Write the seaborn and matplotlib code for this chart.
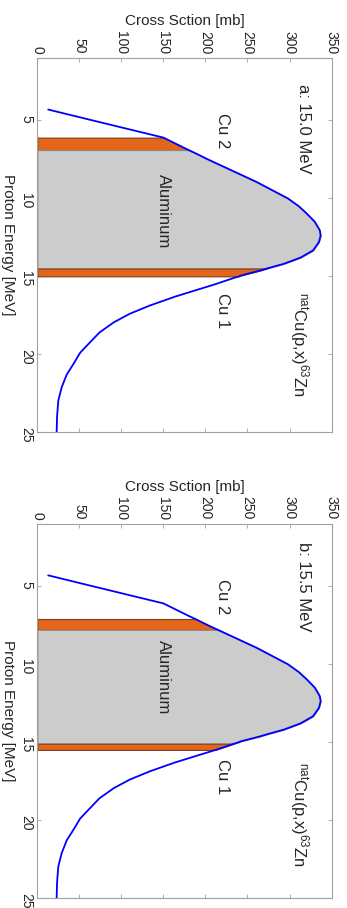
import numpy as np
import matplotlib
matplotlib.use("Agg")
import matplotlib.pyplot as plt
import seaborn as sns

# excitation function natCu(p,x)63Zn
energy = [4.3, 5.0, 6.1, 6.9, 7.1, 7.5, 7.8, 8.95, 10.0, 10.5, 11.0, 11.5, 12.05,
          12.38, 12.8, 13.34, 13.8, 14.2, 14.5, 14.63, 14.95, 15.0, 15.1, 15.5,
          15.8, 16.3, 16.87, 17.4, 17.95, 18.6, 19.33, 19.9, 20.62, 21.3, 22.12,
          22.97, 24.0, 25.0]
sigma = [13, 66, 150, 180, 188, 203, 215, 261, 298, 311, 321, 330, 336,
         337, 335, 328, 313, 293, 273, 265, 242, 240, 234, 212,
         194, 164, 134, 110, 91, 74, 61, 51, 43, 35, 29,
         25, 23.5, 23]

panel_titles = ["a: 15.0 MeV", "b: 15.5 MeV"]
# (start, end) energies of each foil, per panel
cu1_ranges = [(14.5, 15.0), (15.1, 15.5)]
al_ranges = [(6.9, 14.5), (7.8, 15.1)]
cu2_ranges = [(6.1, 6.9), (7.1, 7.8)]
title_start = [2.63, 2.16]
nat_start = [16.0, 16.26]

xticks = [0, 50, 100, 150, 200, 250, 300, 350]
yticks = [5, 10, 15, 20, 25]

sns.set_style("white")
plt.rcParams["font.family"] = ["Liberation Sans", "DejaVu Sans"]
plt.rcParams["mathtext.fontset"] = "custom"
plt.rcParams["mathtext.rm"] = "Liberation Sans"
plt.rcParams["mathtext.it"] = "Liberation Sans:italic"

E = np.array(energy)
S = np.array(sigma)

ORANGE = "#E4661A"
GRAY = "#CCCCCC"
AXCOL = "#A0A0A0"

fig = plt.figure(figsize=(3.47, 9.08), dpi=100)
positions = [[0.1075, 0.524, 0.848, 0.412], [0.1075, 0.011, 0.848, 0.412]]

for i, pos in enumerate(positions):
    ax = fig.add_axes(pos)

    for (lo, hi), col, ec in [(cu2_ranges[i], ORANGE, "#7a4020"),
                              (al_ranges[i], GRAY, "#8a8a8a"),
                              (cu1_ranges[i], ORANGE, "#7a4020")]:
        m = (E >= lo) & (E <= hi)
        ax.fill_betweenx(E, 0, S, where=m, facecolor=col, edgecolor=ec,
                         linewidth=0.8, zorder=1)

    sns.lineplot(x=S, y=E, sort=False, estimator=None, color="#0000FF",
                 linewidth=1.3, ax=ax, zorder=3)

    ax.set_xlim(0, 350)
    ax.set_ylim(25, 1)
    ax.set_xticks(xticks)
    ax.set_yticks(yticks)
    ax.tick_params(axis="both", direction="in", length=3, width=0.6,
                   color=AXCOL, labelsize=10, labelrotation=-90, pad=3,
                   top=True, bottom=True, left=True, right=True,
                   labeltop=True, labelbottom=False, labelleft=True)
    for sp in ax.spines.values():
        sp.set_color(AXCOL)
        sp.set_linewidth(0.8)

    ax.xaxis.set_label_position("top")
    ax.set_xlabel("Cross Sction [mb]", fontsize=11, labelpad=4)
    ax.set_ylabel("Proton Energy [MeV]", fontsize=11, rotation=-90,
                  va="center", ha="center")
    ax.yaxis.set_label_coords(-0.098, 0.5)

    kw = dict(rotation=-90, rotation_mode="anchor", ha="left", fontsize=12)
    ax.text(317, title_start[i], panel_titles[i], va="center", **kw)
    ax.text(220, 4.52, "Cu 2", va="center", **kw)
    ax.text(150, 8.42, "Aluminum", va="center", **kw)
    ax.text(220, 16.1, "Cu 1", va="center", **kw)
    ax.text(305, nat_start[i], r"$^{\mathrm{nat}}$Cu(p,x)$^{63}$Zn",
            va="baseline", **kw)

fig.savefig("out.png", dpi=100)
